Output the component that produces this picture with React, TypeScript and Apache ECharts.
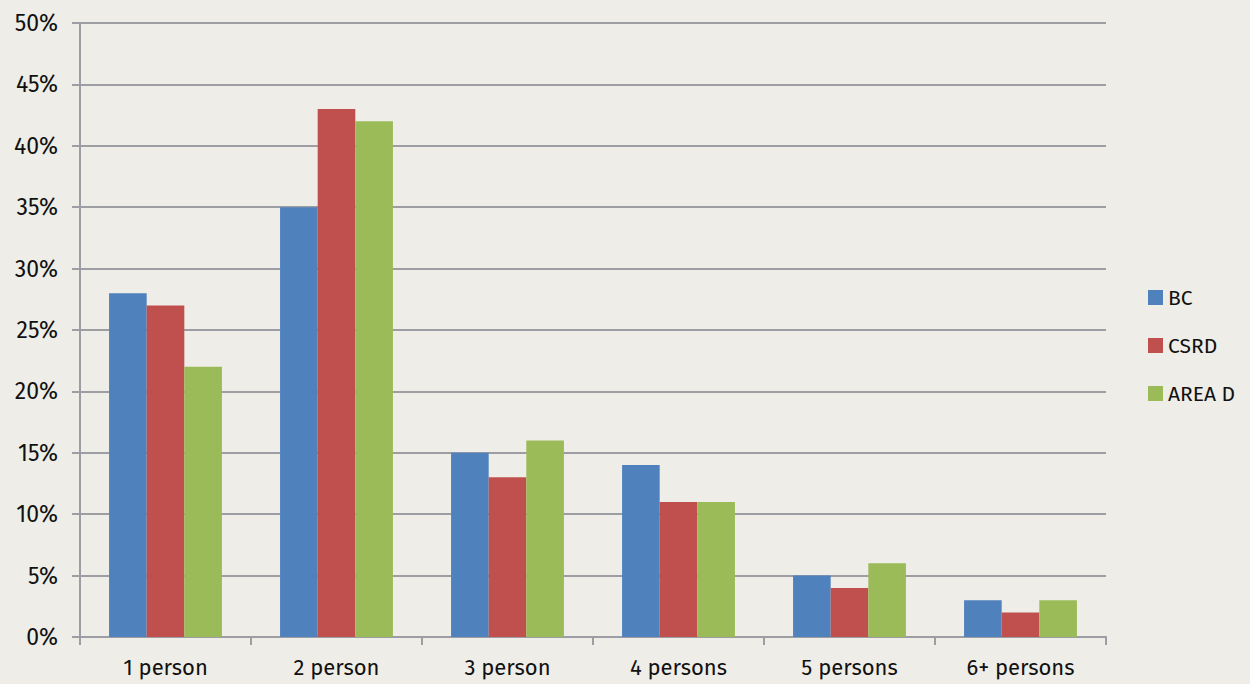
import React, { useEffect, useRef } from "react";
import * as echarts from "echarts";

const categories = ["1 person", "2 person", "3 person", "4 persons", "5 persons", "6+ persons"];
const bcValues = [28, 35, 15, 14, 5, 3];
const csrdValues = [27, 43, 13, 11, 4, 2];
const areaDValues = [22, 42, 16, 11, 6, 3];
const seriesNames = ["BC", "CSRD", "AREA D"];
const seriesColors = ["#4f81bd", "#c0504d", "#9bbb59"];

export default function App() {
  const ref = useRef<HTMLDivElement>(null);
  useEffect(() => {
    if (!ref.current) return;
    const chart = echarts.init(ref.current, undefined, { renderer: "svg" });
    const font = "'Fira Sans', 'Open Sans', 'Noto Sans', sans-serif";
    const data = [bcValues, csrdValues, areaDValues];
    chart.setOption({
      animation: false,
      backgroundColor: "#efede7",
      textStyle: { fontFamily: font },
      grid: { left: 80, right: 144, top: 23, bottom: 47, containLabel: false },
      legend: {
        orient: "vertical",
        left: 1143,
        top: 282,
        itemWidth: 15,
        itemHeight: 15,
        itemGap: 27,
        icon: "rect",
        textStyle: { fontSize: 21, color: "#111", fontFamily: font },
        data: seriesNames,
      },
      xAxis: {
        type: "category",
        data: categories,
        axisLine: { lineStyle: { color: "#9c9ea4", width: 2 } },
        axisTick: { show: true, length: 8, lineStyle: { color: "#9c9ea4", width: 2 } },
        axisLabel: { fontSize: 22, color: "#111", margin: 19, fontFamily: font },
      },
      yAxis: {
        type: "value",
        min: 0,
        max: 50,
        interval: 5,
        axisLine: { show: true, lineStyle: { color: "#9c9ea4", width: 2 } },
        axisTick: { show: true, length: 8, lineStyle: { color: "#9c9ea4", width: 2 } },
        splitLine: { lineStyle: { color: "#9c9ea4", width: 2 } },
        axisLabel: { fontSize: 23, color: "#111", margin: 22, formatter: "{value}%", fontFamily: font },
      },
      series: seriesNames.map((name, i) => ({
        name,
        type: "bar",
        data: data[i],
        barGap: "0%",
        barCategoryGap: "34%",
        itemStyle: { color: seriesColors[i] },
      })),
    });
    return () => chart.dispose();
  }, []);
  return (
    <div
      ref={ref}
      style={{ position: "absolute", left: 0, top: 0, width: 1250, height: 684 }}
    />
  );
}
